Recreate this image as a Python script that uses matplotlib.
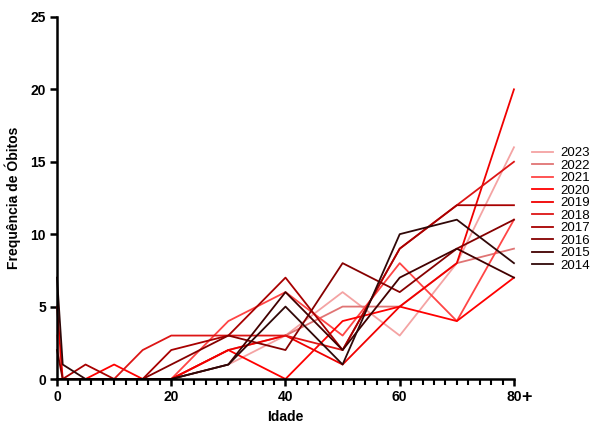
import numpy as np
import matplotlib
matplotlib.use('Agg')
import matplotlib.pyplot as plt
from matplotlib.ticker import MultipleLocator

# age groups (80 = 80+)
ages = [0, 1, 5, 10, 15, 20, 30, 40, 50, 60, 70, 80]

y2014 = [7, 1, 0, 0, 0, 0, 1, 5, 1, 10, 11, 8]
y2015 = [0, 0, 0, 0, 0, 0, 1, 6, 2, 7, 9, 7]
y2016 = [2, 0, 0, 0, 0, 1, 3, 2, 8, 6, 9, 11]
y2017 = [0, 0, 1, 0, 0, 2, 3, 7, 2, 9, 12, 12]
y2018 = [0, 0, 0, 0, 2, 3, 3, 3, 2, 9, 12, 15]
y2019 = [5, 0, 0, 0, 0, 0, 2, 3, 1, 5, 8, 20]
y2020 = [0, 0, 0, 1, 0, 0, 2, 0, 4, 5, 4, 7]
y2021 = [0, 0, 0, 0, 0, 0, 4, 6, 3, 8, 4, 11]
y2022 = [0, 0, 0, 0, 0, 0, 2, 3, 5, 5, 8, 9]
y2023 = [3, 0, 0, 0, 0, 0, 1, 3, 6, 3, 8, 16]

years = ['2023', '2022', '2021', '2020', '2019', '2018', '2017', '2016', '2015', '2014']
series = [y2023, y2022, y2021, y2020, y2019, y2018, y2017, y2016, y2015, y2014]
colors = ['#F4A3A3', '#E07474', '#FF4545', '#FF0000', '#F00000', '#DD1515',
          '#A80000', '#860000', '#420000', '#300808']

plt.rcParams['font.family'] = ['Liberation Sans', 'DejaVu Sans']

fig = plt.figure(figsize=(5.95, 4.23), dpi=100)
ax = fig.add_axes([0.0958, 0.104, 0.768, 0.856])

for yr, vals, c in zip(years, series, colors):
    ax.plot(ages, vals, color=c, lw=1.3, label=yr, clip_on=False, zorder=3)

ax.set_xlim(0, 80)
ax.set_ylim(0, 25)
ax.xaxis.set_major_locator(MultipleLocator(20))
ax.xaxis.set_minor_locator(MultipleLocator(2))
ax.yaxis.set_major_locator(MultipleLocator(5))

for s in ['top', 'right']:
    ax.spines[s].set_visible(False)
for s in ['left', 'bottom']:
    ax.spines[s].set_linewidth(1.8)
    ax.spines[s].set_zorder(4)

ax.tick_params(axis='both', which='major', direction='out', length=5, width=1.8,
               labelsize=10, pad=3)
ax.tick_params(axis='x', which='minor', direction='out', length=4, width=1.5)
for lab in ax.get_xticklabels() + ax.get_yticklabels():
    lab.set_fontweight('bold')

ax.text(81.3, -1.25, '+', fontsize=13, fontweight='bold', va='center', ha='left')

ax.set_xlabel('Idade', fontsize=10, fontweight='bold', labelpad=4)
ax.set_ylabel('Frequência de Óbitos', fontsize=10, fontweight='bold', labelpad=7)

ax.legend(loc='upper left', bbox_to_anchor=(1.028, 0.655), frameon=False,
          fontsize=9.5, handlelength=1.6, labelspacing=0.02, handletextpad=0.55,
          borderaxespad=0)

fig.savefig('out.png', dpi=100)
